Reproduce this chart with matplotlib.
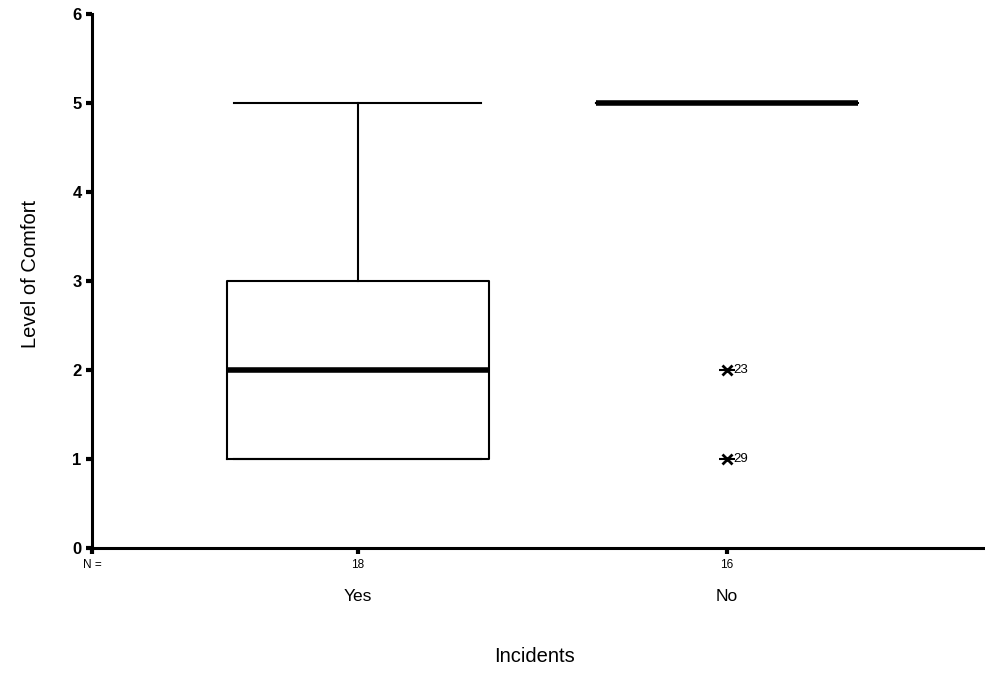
import matplotlib.pyplot as plt

plt.rcParams['font.family'] = ['Liberation Sans', 'DejaVu Sans']

groups = ["Yes", "No"]
counts = [18, 16]
q1 = [1, 5]
medians = [2, 5]
q3 = [3, 5]
whis_lo = [1, 5]
whis_hi = [5, 5]
outliers = [[], [2, 1]]
outlier_ids = [[], ["23", "29"]]

positions = [1, 2]

stats = []
for i in range(len(groups)):
    stats.append({
        "med": medians[i], "q1": q1[i], "q3": q3[i],
        "whislo": whis_lo[i], "whishi": whis_hi[i], "fliers": [],
    })

fig = plt.figure(figsize=(9.85, 6.73), dpi=100)
ax = fig.add_axes([0.0934, 0.1857, 0.9066, 0.7933])

ax.bxp(
    stats, positions=positions, widths=0.71, capwidths=0.67,
    showfliers=False,
    boxprops=dict(color="black", linewidth=1.5),
    whiskerprops=dict(color="black", linewidth=1.5),
    capprops=dict(color="black", linewidth=1.5),
    medianprops=dict(color="black", linewidth=4),
)

for pos, vals, ids in zip(positions, outliers, outlier_ids):
    for v, lab in zip(vals, ids):
        ax.plot(pos, v, marker="x", color="black", markersize=7, mew=2)
        ax.plot(pos, v, marker="_", color="black", markersize=11, mew=1.5)
        ax.text(pos + 0.018, v, lab, fontsize=9.5, va="center", ha="left")

ax.set_xlim(0.28, 2.70)
ax.set_ylim(0, 6)
ax.set_yticks(range(0, 7))
ax.set_yticklabels([str(t) for t in range(0, 7)], fontsize=12, fontweight="bold")
ax.set_xticks([0.28] + positions)
ax.set_xticklabels(["N ="] + [str(c) for c in counts], fontsize=8.5)
ax.tick_params(axis="both", direction="out", length=4, width=3)
ax.tick_params(axis="x", pad=4)

for i, g in enumerate(groups):
    ax.text(positions[i], -0.54, g, fontsize=12.5, ha="center", va="center",
            transform=ax.transData, clip_on=False)

ax.spines["top"].set_visible(False)
ax.spines["right"].set_visible(False)
ax.spines["left"].set_linewidth(2.2)
ax.spines["bottom"].set_linewidth(2.2)

fig.text(0.543, 0.024, "Incidents", fontsize=14.5, ha="center", va="center")
fig.text(0.031, 0.593, "Level of Comfort", fontsize=14.5, rotation=90,
         ha="center", va="center")

fig.savefig("out.png", dpi=100)
